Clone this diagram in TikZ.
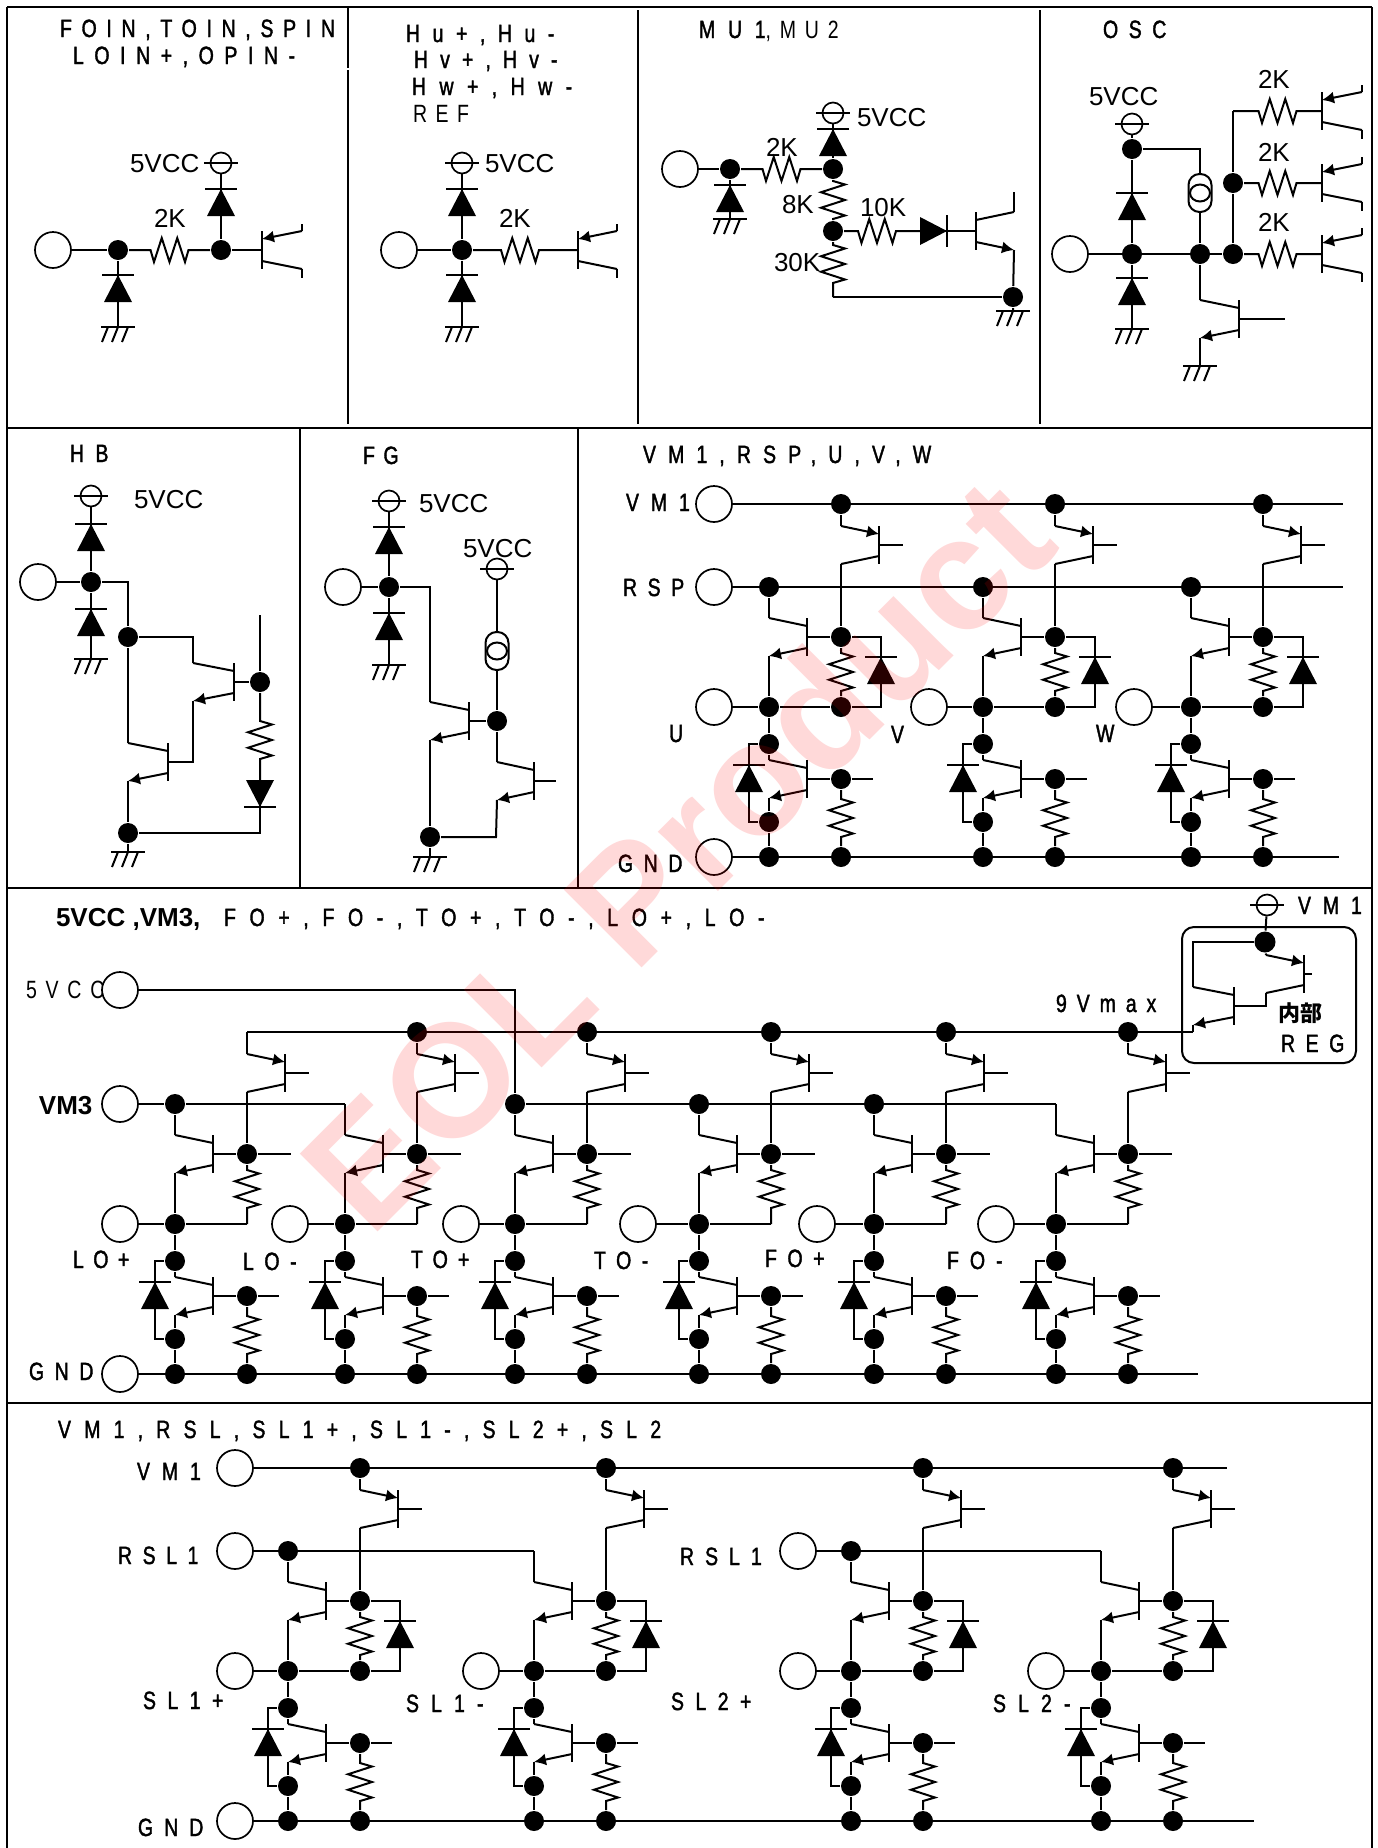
\documentclass[tikz,border=0pt]{standalone}
\usepackage{fontspec}
\setmainfont{Liberation Sans}
\newfontfamily\cjkfont{Noto Sans CJK JP}
\usetikzlibrary{arrows.meta,calc,shapes.geometric}

\newcommand{\spaced}[2][50]{{\pgfmathsetmacro{\trk}{#1*0.88}\fontspec[FakeStretch=0.78,FakeBold=1.5,LetterSpace=\trk]{Liberation Sans}#2}}
\newcommand{\spacedthin}[2][50]{{\pgfmathsetmacro{\trk}{#1*0.88}\fontspec[FakeStretch=0.78,LetterSpace=\trk]{Liberation Sans}#2}}

\newcommand{\vcc}[3]{
    \node (#1) [rail] at (#2,#3) {};
    \draw (#2-17,#3) -- (#2+17,#3);
}
\newcommand{\earthbar}[3]{
    \coordinate (#1) at (#2,#3);
    \draw (#2-17,#3) -- (#2+17,#3);
    \draw (#2-10,#3) -- ++(-6,15);
    \draw (#2,#3) -- ++(-6,15);
    \draw (#2+10,#3) -- ++(-6,15);
}
\newcommand{\diode}[2]{
    \begin{scope}[shift={(#1)}, rotate=#2]
        \fill (-14,27) -- (14,27) -- (0,0) -- cycle;
        \draw (-16,0) -- (16,0);
    \end{scope}
}
\newcommand{\bjt}[6]{
    \coordinate (#1_b) at (#2,#3);
    \coordinate (#1_c) at (#4,#3-19);
    \coordinate (#1_e) at (#4,#3+19);
    \draw (#2,#3-19) -- (#2,#3+19);
    \draw[#5] (#1_c) -- (#2,#3-11);
    \draw[#6] (#2,#3+11) -- (#1_e);
}
\newcommand{\legstubs}[1]{
    \draw (#1_c) -- ++(0,-7);
    \draw (#1_e) -- ++(0,9);
}
\newcommand{\resv}[2]{
    \draw (#1) -- ($(#1)!0.5!(#2)+(0,-19)$) -- ++(12,3.5) -- ++(-24,7.75) -- ++(24,7.75)
        -- ++(-24,7.75) -- ++(24,7.75) -- ++(-12,3.5) -- (#2);
}
\newcommand{\resh}[2]{
    \draw (#1) -- ($(#1)!0.5!(#2)+(-19,0)$) -- ++(3.5,12) -- ++(7.75,-24) -- ++(7.75,24)
        -- ++(7.75,-24) -- ++(7.75,24) -- ++(3.5,-12) -- (#2);
}
\newcommand{\isrc}[3]{
    \node (#1) [srcout] at (#2,#3) {};
    \node (#1_in) [srcin] at (#2,#3) {};
}
\newcommand{\halfcell}[7]{
    \begin{scope}[shift={(#2,#3)}]
        \node (#1_col) [#6] at (0,0) {};
        \node (#1_top) [#7] at (72,#5) {};
        \bjt{#1_hi}{110}{#5+41}{72}{emit}{}
        \node (#1_drv) [dot] at (72,50) {};
        \bjt{#1_up}{38}{50}{0}{}{emit}
        \node (#1_out) [dot] at (0,120) {};
        \node (#1_res) [outjoin] at (72,120) {};
        \node (#1_pin) [term] at (#4,120) {};
        \node (#1_mid) [dot] at (0,157) {};
        \bjt{#1_low}{38}{192}{0}{}{emit}
        \node (#1_sen) [dot] at (0,235) {};
        \node (#1_gnd) [dot] at (0,270) {};
        \node (#1_gate) [dot] at (72,192) {};
        \node (#1_rgnd) [dot] at (72,270) {};
        \coordinate (#1_hiend) at (134,#5+41);
        \coordinate (#1_lowend) at (104,192);
        \coordinate (#1_dt) at (-20,157);
        \coordinate (#1_db) at (-20,235);
        \draw (#1_col) -- (#1_up_c);
        \draw (#1_top) -- (#1_hi_c);
        \draw (#1_hi_e) -- (#1_drv);
        \draw (#1_hi_b) -- (#1_hiend);
        \draw (#1_up_b) -- (#1_drv);
        \draw (#1_pin) -- (#1_out) -- (#1_res);
        \draw (#1_up_e) -- (#1_out) -- (#1_mid) -- (#1_low_c);
        \draw (#1_low_e) -- (#1_sen) -- (#1_gnd);
        \draw (#1_low_b) -- (#1_gate) -- (#1_lowend);
        \draw (#1_mid) -- (#1_dt) -- (#1_db) -- (#1_sen);
        \resv{#1_drv}{#1_res}
        \resv{#1_gate}{#1_rgnd}
        \diode{-20,178}{0}
    \end{scope}
}
\newcommand{\outdiode}[1]{
    \coordinate (#1_ct) at ($(#1_drv)+(40,0)$);
    \coordinate (#1_cb) at ($(#1_res)+(40,0)$);
    \draw (#1_drv) -- (#1_ct) -- (#1_cb) -- (#1_res);
    \diode{$(#1_drv)+(40,20)$}{0}
}
\newcommand{\outstub}[1]{
    \coordinate (#1_ct) at ($(#1_drv)+(44,0)$);
    \draw (#1_drv) -- (#1_ct);
}

\begin{document}
\begin{tikzpicture}[x=0.5pt, y=-0.5pt, line width=1pt,
    term/.style={circle, draw, line width=0.85pt, minimum size=18pt, inner sep=0pt},
    rail/.style={circle, draw, line width=0.85pt, minimum size=10.5pt, inner sep=0pt},
    dot/.style={circle, fill, minimum size=10pt, inner sep=0pt},
    corner/.style={coordinate},
    outjoin/.style={dot},
    emit/.style={-{Latex[length=6pt,width=6pt]}},
    srcout/.style={rectangle, draw, rounded corners=5.5pt, minimum width=11.5pt, minimum height=19pt, inner sep=0pt},
    srcin/.style={ellipse, draw, minimum width=10pt, minimum height=8.5pt, inner sep=0pt},
    caps/.style={anchor=base west, inner sep=0pt, font=\fontsize{12.5}{15}\selectfont},
    value/.style={anchor=base west, inner sep=0pt, font=\fontsize{13}{15}\selectfont},
    strong/.style={anchor=base west, inner sep=0pt, font=\fontsize{13}{15}\bfseries\selectfont}
]
    \useasboundingbox (0,0) rectangle (1377,1848);
    \fill[white] (0,0) rectangle (1377,1848);

    \draw (7,7) -- (1372,7);
    \draw (7,7) -- (7,1848);
    \draw (1372,7) -- (1372,1848);
    \draw (7,428) -- (1372,428);
    \draw (7,888) -- (1372,888);
    \draw (7,1403) -- (1372,1403);
    \draw (348,7) -- (348,68);
    \draw (348,70) -- (348,424);
    \draw (638,10) -- (638,424);
    \draw (1040,10) -- (1040,424);
    \draw (300,428) -- (300,888);
    \draw (578,428) -- (578,888);

    \node (head_foin) [caps] at (59,37) {\spaced[44]{FOIN,TOIN,SPIN}};
    \node (head_loin) [caps] at (72,64) {\spaced[48]{LOIN+,OPIN-}};
    \node (foin_vcc_text) [value] at (129,172) {5VCC};
    \node (foin_r_text) [value] at (153,227) {2K};
    \node (foin_pin) [term] at (53,250) {};
    \node (foin_in) [dot] at (118,250) {};
    \node (foin_base) [dot] at (221,250) {};
    \vcc{foin_vcc}{221}{163}
    \earthbar{foin_gnd}{118}{327}
    \bjt{foin_q}{262}{250}{302}{emit}{}
    \legstubs{foin_q}
    \draw (foin_pin) -- (foin_in);
    \resh{foin_in}{foin_base}
    \draw (foin_base) -- (foin_q_b);
    \draw (foin_vcc) -- (foin_base);
    \draw (foin_in) -- (foin_gnd);
    \diode{221,189}{0}
    \diode{118,275}{0}

    \node (head_hu) [caps] at (405,42) {\spaced[57]{Hu+,Hu-}};
    \node (head_hv) [caps] at (413,68) {\spaced[55]{Hv+,Hv-}};
    \node (head_hw) [caps] at (411,95) {\spaced[61]{Hw+,Hw-}};
    \node (head_ref) [caps] at (412,122) {\spacedthin[39]{REF}};
    \node (hall_vcc_text) [value] at (484,172) {5VCC};
    \node (hall_r_text) [value] at (498,227) {2K};
    \node (hall_pin) [term] at (399,250) {};
    \node (hall_in) [dot] at (462,250) {};
    \vcc{hall_vcc}{462}{163}
    \earthbar{hall_gnd}{462}{327}
    \bjt{hall_q}{578}{250}{617}{emit}{}
    \legstubs{hall_q}
    \draw (hall_pin) -- (hall_in);
    \resh{hall_in}{hall_q_b}
    \draw (hall_vcc) -- (hall_in) -- (hall_gnd);
    \diode{462,189}{0}
    \diode{462,275}{0}

    \node (head_mu) [caps] at (698,38) {\spaced[58]{MU1}\spacedthin[40]{,MU2}};
    \node (mu_vcc_text) [value] at (856,126) {5VCC};
    \node (mu_r2_text) [value] at (765,156) {2K};
    \node (mu_r8_text) [value] at (781,213) {8K};
    \node (mu_r10_text) [value] at (859,216) {10K};
    \node (mu_r30_text) [value] at (773,271) {30K};
    \node (mu_pin) [term] at (680,169) {};
    \node (mu_in) [dot] at (730,169) {};
    \node (mu_top) [dot] at (833,169) {};
    \node (mu_mid) [dot] at (833,231) {};
    \node (mu_end) [dot] at (1013,297) {};
    \vcc{mu_vcc}{833}{113}
    \earthbar{mu_gnd}{730}{219}
    \earthbar{mu_gnd2}{1013}{311}
    \bjt{mu_q}{976}{231}{1014}{}{emit}
    \coordinate (mu_diode) at (921,231);
    \coordinate (mu_low) at (833,297);
    \coordinate (mu_cup) at (1014,192);
    \draw (mu_pin) -- (mu_in);
    \draw (mu_in) -- (mu_gnd);
    \resh{mu_in}{mu_top}
    \draw (mu_vcc) -- (mu_top);
    \resv{mu_top}{mu_mid}
    \resh{mu_mid}{mu_diode}
    \draw (mu_diode) -- (mu_q_b);
    \draw (mu_q_c) -- (mu_cup);
    \resv{mu_mid}{mu_low}
    \draw (mu_low) -- (mu_end);
    \draw (mu_q_e) -- (mu_end) -- (mu_gnd2);
    \diode{730,185}{0}
    \diode{833,129}{0}
    \diode{947,231}{-90}

    \node (head_osc) [caps] at (1102,38) {\spaced[48]{OSC}};
    \node (osc_vcc_text) [value] at (1088,105) {5VCC};
    \node (osc_r1_text) [value] at (1257,88) {2K};
    \node (osc_r2_text) [value] at (1257,161) {2K};
    \node (osc_r3_text) [value] at (1257,231) {2K};
    \node (osc_pin) [term] at (1070,254) {};
    \node (osc_top) [dot] at (1132,149) {};
    \node (osc_n1) [dot] at (1132,254) {};
    \node (osc_n2) [dot] at (1200,254) {};
    \node (osc_r3) [dot] at (1233,254) {};
    \node (osc_r2) [dot] at (1233,183) {};
    \node (osc_r1) [corner] at (1233,111) {};
    \coordinate (osc_turn) at (1200,149);
    \vcc{osc_vcc}{1132}{124}
    \earthbar{osc_gnd}{1132}{329}
    \earthbar{osc_gnd2}{1200}{366}
    \isrc{osc_src}{1200}{193}
    \bjt{osc_q1}{1322}{111}{1362}{emit}{}
    \bjt{osc_q2}{1322}{183}{1362}{emit}{}
    \bjt{osc_q3}{1322}{254}{1362}{emit}{}
    \legstubs{osc_q1}
    \legstubs{osc_q2}
    \legstubs{osc_q3}
    \bjt{osc_q4}{1239}{319}{1200}{}{emit}
    \coordinate (osc_q4_end) at (1285,319);
    \draw (osc_vcc) -- (osc_top) -- (osc_n1) -- (osc_gnd);
    \draw (osc_top) -- (osc_turn) -- (osc_src);
    \draw (osc_src) -- (osc_n2) -- (osc_q4_c);
    \draw (osc_pin) -- (osc_r3) -- (osc_r2) -- (osc_r1);
    \resh{osc_r1}{osc_q1_b}
    \resh{osc_r2}{osc_q2_b}
    \resh{osc_r3}{osc_q3_b}
    \draw (osc_q4_b) -- (osc_q4_end);
    \draw (osc_q4_e) -- (osc_gnd2);
    \diode{1132,193}{0}
    \diode{1132,278}{0}

    \node (head_hb) [caps] at (69,462) {\spaced[52]{HB}};
    \node (hb_vcc_text) [value] at (133,508) {5VCC};
    \node (hb_pin) [term] at (38,582) {};
    \node (hb_in) [dot] at (91,582) {};
    \node (hb_n1) [dot] at (128,637) {};
    \node (hb_n2) [dot] at (128,833) {};
    \node (hb_r) [dot] at (260,682) {};
    \coordinate (hb_turn) at (128,582);
    \coordinate (hb_t2c) at (193,637);
    \coordinate (hb_t1b) at (193,762);
    \coordinate (hb_rtop) at (260,615);
    \coordinate (hb_da) at (260,798);
    \coordinate (hb_dk) at (260,833);
    \vcc{hb_vcc}{91}{496}
    \earthbar{hb_gnd}{91}{659}
    \earthbar{hb_gnd2}{128}{852}
    \bjt{hb_q1}{168}{762}{128}{}{emit}
    \bjt{hb_q2}{234}{682}{193}{}{emit}
    \draw (hb_vcc) -- (hb_in) -- (hb_gnd);
    \draw (hb_pin) -- (hb_in) -- (hb_turn) -- (hb_n1);
    \draw (hb_n1) -- (hb_t2c) -- (hb_q2_c);
    \draw (hb_n1) -- (hb_q1_c);
    \draw (hb_q2_b) -- (hb_r) -- (hb_rtop);
    \draw (hb_q2_e) -- (hb_t1b) -- (hb_q1_b);
    \draw (hb_q1_e) -- (hb_n2) -- (hb_gnd2);
    \resv{hb_r}{hb_da}
    \draw (hb_da) -- (hb_dk) -- (hb_n2);
    \diode{91,524}{0}
    \diode{91,609}{0}
    \diode{260,807}{180}

    \node (head_fg) [caps] at (362,464) {\spaced[39]{FG}};
    \node (fg_vcc_text) [value] at (418,512) {5VCC};
    \node (fg_vcc2_text) [value] at (462,557) {5VCC};
    \node (fg_pin) [term] at (343,587) {};
    \node (fg_in) [dot] at (389,587) {};
    \node (fg_n1) [dot] at (497,721) {};
    \node (fg_n2) [dot] at (430,837) {};
    \coordinate (fg_turn) at (430,587);
    \coordinate (fg_turn2) at (496,837);
    \coordinate (fg_q2_end) at (556,781);
    \vcc{fg_vcc}{389}{501}
    \vcc{fg_vcc2}{497}{569}
    \earthbar{fg_gnd}{389}{665}
    \earthbar{fg_gnd2}{430}{857}
    \isrc{fg_src}{497}{651}
    \bjt{fg_q1}{469}{721}{430}{}{emit}
    \bjt{fg_q2}{534}{781}{497}{}{emit}
    \draw (fg_vcc) -- (fg_in) -- (fg_gnd);
    \draw (fg_pin) -- (fg_in) -- (fg_turn) -- (fg_q1_c);
    \draw (fg_q1_b) -- (fg_n1);
    \draw (fg_vcc2) -- (fg_src) -- (fg_n1) -- (fg_q2_c);
    \draw (fg_q1_e) -- (fg_n2) -- (fg_gnd2);
    \draw (fg_q2_b) -- (fg_q2_end);
    \draw (fg_q2_e) -- (fg_turn2) -- (fg_n2);
    \diode{389,527}{0}
    \diode{389,613}{0}

    \node (head_vm1) [caps] at (642,463) {\spaced[55]{VM1,RSP,U,V,W}};
    \node (vm1_text) [caps] at (625,511) {\spaced[54]{VM1}};
    \node (rsp_text) [caps] at (622,596) {\spaced[48]{RSP}};
    \node (gnd_text) [caps] at (617,872) {\spaced[48]{GND}};
    \node (u_text) [caps] at (668,742) {\spaced{U}};
    \node (v_text) [caps] at (890,743) {\spaced{V}};
    \node (w_text) [caps] at (1095,742) {\spaced{W}};
    \node (vm1_pin) [term] at (714,504) {};
    \node (rsp_pin) [term] at (714,587) {};
    \node (gnd_pin) [term] at (714,857) {};
    \coordinate (vm1_end) at (1343,504);
    \coordinate (rsp_end) at (1343,587);
    \coordinate (gnd_end) at (1339,857);
    \halfcell{u}{769}{587}{-55}{-83}{dot}{dot}
    \halfcell{v}{983}{587}{-54}{-83}{dot}{dot}
    \halfcell{w}{1191}{587}{-57}{-83}{dot}{dot}
    \outdiode{u}
    \outdiode{v}
    \outdiode{w}
    \draw (vm1_pin) -- (vm1_end);
    \draw (rsp_pin) -- (rsp_end);
    \draw (gnd_pin) -- (gnd_end);

    \node (head_5vcc) [strong] at (55,926) {5VCC ,VM3,};
    \node (head_fo) [caps] at (223,926) {\spaced[62]{FO+,FO-,TO+,TO-,LO+,LO-}};
    \node (vcc_text) [caps] at (25,998) {\spacedthin[40]{5VCC}};
    \node (vm3_text) [strong] at (38,1114) {VM3};
    \node (gnd3_text) [caps] at (28,1380) {\spaced[48]{GND}};
    \node (lop_text) [caps] at (72,1268) {\spaced[43]{LO+}};
    \node (lom_text) [caps] at (242,1270) {\spaced[48]{LO-}};
    \node (top_text) [caps] at (410,1268) {\spaced[46]{TO+}};
    \node (tom_text) [caps] at (593,1269) {\spaced[48]{TO-}};
    \node (fop_text) [caps] at (764,1267) {\spaced[48]{FO+}};
    \node (fom_text) [caps] at (946,1269) {\spaced[50]{FO-}};
    \node (vmax_text) [caps] at (1055,1012) {\spaced[45]{9Vmax}};
    \node (vm1r_text) [caps] at (1297,914) {\spaced[54]{VM1}};
    \node (reg_cjk) [anchor=base west, inner sep=0pt, font=\fontsize{11}{13}\cjkfont\bfseries] at (1277,1021) {内部};
    \node (reg_text) [caps] at (1280,1052) {\spaced[48]{REG}};
    \node (vcc_pin) [term] at (120,990) {};
    \node (vm3_pin) [term] at (120,1104) {};
    \node (gnd3_pin) [term] at (120,1374) {};
    \coordinate (gnd3_end) at (1198,1374);
    \coordinate (reg_in) at (1193,1032);
    \begin{scope}[outjoin/.style={corner}]
        \halfcell{lop}{175}{1104}{-55}{-72}{dot}{corner}
        \halfcell{lom}{345}{1104}{-55}{-72}{corner}{dot}
        \halfcell{top}{515}{1104}{-54}{-72}{dot}{dot}
        \halfcell{tom}{699}{1104}{-61}{-72}{dot}{dot}
        \halfcell{fop}{874}{1104}{-57}{-72}{dot}{dot}
        \halfcell{fom}{1056}{1104}{-60}{-72}{corner}{dot}
    \end{scope}
    \outstub{lop}
    \outstub{lom}
    \outstub{top}
    \outstub{tom}
    \outstub{fop}
    \outstub{fom}
    \draw (vcc_pin) -| (top_col);
    \draw (vm3_pin) -- (lop_col) -- (lom_col);
    \draw (top_col) -- (fom_col);
    \draw (lop_top) -- (reg_in);
    \draw (gnd3_pin) -- (gnd3_end);

    \node (reg_box) [draw, rounded corners=6pt, minimum width=87pt, minimum height=68pt, inner sep=0pt] at (1269,995) {};
    \node (reg_vm) [dot, minimum size=10.5pt] at (1265,942) {};
    \vcc{reg_rail}{1267}{905}
    \bjt{reg_q1}{1304}{974}{1266}{emit}{}
    \bjt{reg_q2}{1234}{1006}{1193}{}{emit}
    \coordinate (reg_turn) at (1193,942);
    \coordinate (reg_q1_end) at (1312,974);
    \draw (reg_rail) -- (reg_vm);
    \draw (reg_vm) -- (reg_q1_c);
    \draw (reg_vm) -- (reg_turn) -- (reg_q2_c);
    \draw (reg_q2_b) -| (reg_q1_e);
    \draw (reg_q1_b) -- (reg_q1_end);
    \draw (reg_q2_e) -- (reg_in);

    \node (head_sl) [caps] at (57,1438) {\spaced[60]{VM1,RSL,SL1+,SL1-,SL2+,SL2}};
    \node (vm1b_text) [caps] at (136,1480) {\spaced[54]{VM1}};
    \node (rsl_text) [caps] at (117,1564) {\spaced[48]{RSL1}};
    \node (rsl2_text) [caps] at (679,1565) {\spaced[50]{RSL1}};
    \node (gndb_text) [caps] at (137,1836) {\spaced[50]{GND}};
    \node (slp_text) [caps] at (142,1709) {\spaced[52]{SL1+}};
    \node (slm_text) [caps] at (405,1712) {\spaced[55]{SL1-}};
    \node (s2p_text) [caps] at (670,1710) {\spaced[52]{SL2+}};
    \node (s2m_text) [caps] at (992,1712) {\spaced[55]{SL2-}};
    \node (vm1b_pin) [term] at (235,1468) {};
    \node (rsl_pin) [term] at (235,1551) {};
    \node (rsl2_pin) [term] at (798,1551) {};
    \node (gndb_pin) [term] at (235,1821) {};
    \coordinate (vm1b_end) at (1227,1468);
    \coordinate (gndb_end) at (1254,1821);
    \halfcell{slp}{288}{1551}{-53}{-83}{dot}{dot}
    \halfcell{slm}{534}{1551}{-53}{-83}{corner}{dot}
    \halfcell{stp}{851}{1551}{-53}{-83}{dot}{dot}
    \halfcell{stm}{1101}{1551}{-55}{-83}{corner}{dot}
    \outdiode{slp}
    \outdiode{slm}
    \outdiode{stp}
    \outdiode{stm}
    \draw (vm1b_pin) -- (vm1b_end);
    \draw (rsl_pin) -- (slm_col);
    \draw (rsl2_pin) -- (stm_col);
    \draw (gndb_pin) -- (gndb_end);

    \node (watermark) [rotate=45, anchor=base west, inner sep=0pt, text=red, text opacity=0.15,
        font=\fontsize{80}{80}\bfseries\selectfont] at (370,1240) {EOL Product};
\end{tikzpicture}
\end{document}
